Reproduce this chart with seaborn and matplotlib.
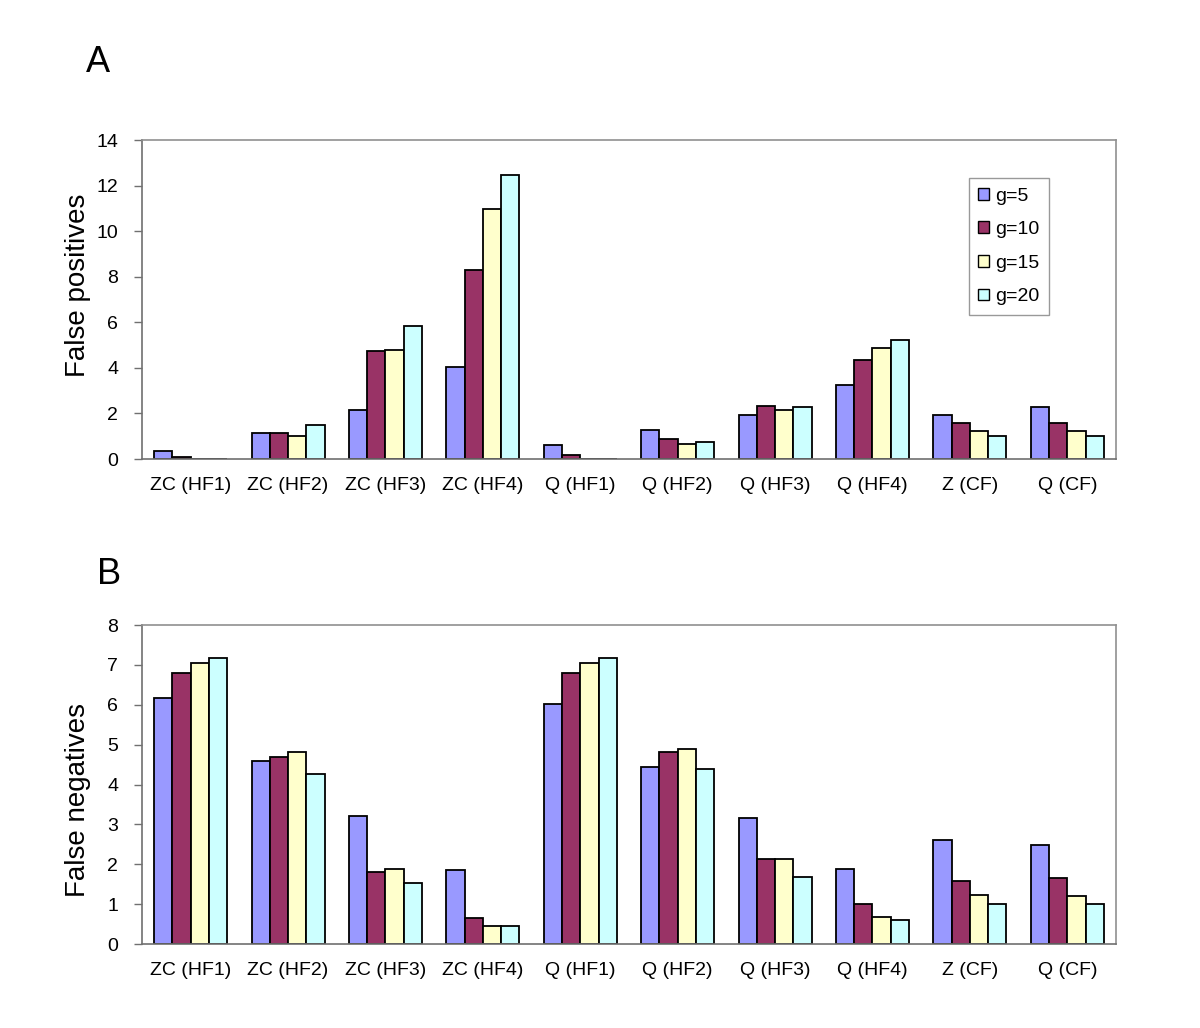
import numpy as np
import pandas as pd
import matplotlib
matplotlib.use("Agg")
import matplotlib.pyplot as plt
import seaborn as sns

categories = ["ZC (HF1)", "ZC (HF2)", "ZC (HF3)", "ZC (HF4)", "Q (HF1)",
              "Q (HF2)", "Q (HF3)", "Q (HF4)", "Z (CF)", "Q (CF)"]
series_names = ["g=5", "g=10", "g=15", "g=20"]

# Panel A: false positives
fp_g5 = [0.36, 1.14, 2.13, 4.02, 0.60, 1.28, 1.93, 3.26, 1.93, 2.28]
fp_g10 = [0.10, 1.14, 4.74, 8.30, 0.17, 0.88, 2.34, 4.33, 1.58, 1.58]
fp_g15 = [0.00, 1.01, 4.79, 10.98, 0.00, 0.66, 2.13, 4.88, 1.21, 1.21]
fp_g20 = [0.00, 1.50, 5.85, 12.45, 0.00, 0.75, 2.28, 5.22, 1.01, 1.01]

# Panel B: false negatives
fn_g5 = [6.18, 4.58, 3.22, 1.85, 6.02, 4.45, 3.17, 1.89, 2.61, 2.49]
fn_g10 = [6.79, 4.70, 1.80, 0.64, 6.79, 4.82, 2.13, 1.00, 1.59, 1.65]
fn_g15 = [7.06, 4.82, 1.89, 0.44, 7.06, 4.90, 2.13, 0.68, 1.24, 1.21]
fn_g20 = [7.18, 4.26, 1.52, 0.44, 7.18, 4.38, 1.69, 0.60, 1.00, 1.00]

colors = ["#9999FF", "#993366", "#FFFFCC", "#CCFFFF"]


def long_df(series):
    rows = []
    for name, vals in zip(series_names, series):
        for c, v in zip(categories, vals):
            rows.append({"cat": c, "g": name, "val": v})
    return pd.DataFrame(rows)


df_a = long_df([fp_g5, fp_g10, fp_g15, fp_g20])
df_b = long_df([fn_g5, fn_g10, fn_g15, fn_g20])

sns.set_theme(style="white")
plt.rcParams["font.family"] = ["Liberation Sans", "DejaVu Sans"]
plt.rcParams["text.color"] = "black"
plt.rcParams["axes.labelcolor"] = "black"
plt.rcParams["xtick.color"] = "black"
plt.rcParams["ytick.color"] = "black"

fig = plt.figure(figsize=(12, 10.28), dpi=100)
ax_a = fig.add_axes([0.1183, 0.5535, 0.8117, 0.3103])
ax_b = fig.add_axes([0.1183, 0.0817, 0.8117, 0.3103])

palette = dict(zip(series_names, colors))


def draw(ax, df, ymax, yticks, ylabel, label_y, legend):
    sns.barplot(data=df, x="cat", y="val", hue="g", order=categories,
                hue_order=series_names, palette=palette, width=0.75,
                edgecolor="black", linewidth=1.3, saturation=1,
                ax=ax, legend=legend, errorbar=None)
    ax.set_xlim(-0.5, len(categories) - 0.5)
    ax.set_ylim(0, ymax)
    ax.set_yticks(yticks)
    ax.set_yticklabels([str(t) for t in yticks], fontsize=14)
    ax.set_xticks(range(len(categories)))
    ax.set_xticklabels(categories, fontsize=14)
    ax.set_xticks(np.arange(-0.5, len(categories), 1.0), minor=True)
    ax.tick_params(axis="x", which="major", length=0, pad=13)
    ax.tick_params(axis="x", which="minor", length=6, direction="out",
                   color="#707070", width=1)
    ax.tick_params(axis="y", which="major", length=6, direction="out",
                   color="#707070", width=1, pad=11, left=True)
    ax.set_xlabel("")
    ax.set_ylabel(ylabel, fontsize=20, va="center")
    ax.yaxis.set_label_coords(-0.0657, label_y)
    for s in ["left", "bottom"]:
        ax.spines[s].set_color("#707070")
        ax.spines[s].set_linewidth(1.2)
    for s in ["top", "right"]:
        ax.spines[s].set_color("#909090")
        ax.spines[s].set_linewidth(1.2)


draw(ax_a, df_a, 14, [0, 2, 4, 6, 8, 10, 12, 14], "False positives", 0.545, True)
draw(ax_b, df_b, 8, [0, 1, 2, 3, 4, 5, 6, 7, 8], "False negatives", 0.451, False)

leg = ax_a.legend(loc="upper right", bbox_to_anchor=(0.931, 0.881),
                  borderaxespad=0, fontsize=14, handlelength=0.55,
                  handleheight=0.55, handletextpad=0.3, labelspacing=0.85,
                  fancybox=False, frameon=True, borderpad=0.5)
leg.get_frame().set_edgecolor("#808080")
leg.get_frame().set_linewidth(1.0)
for h in leg.legend_handles:
    h.set_edgecolor("black")
    h.set_linewidth(1.0)

fig.text(98 / 1200, 1 - 62 / 1028, "A", fontsize=26, ha="center", va="center")
fig.text(109 / 1200, 1 - 574 / 1028, "B", fontsize=26, ha="center", va="center")

fig.savefig("out.png", dpi=100, facecolor="white")
